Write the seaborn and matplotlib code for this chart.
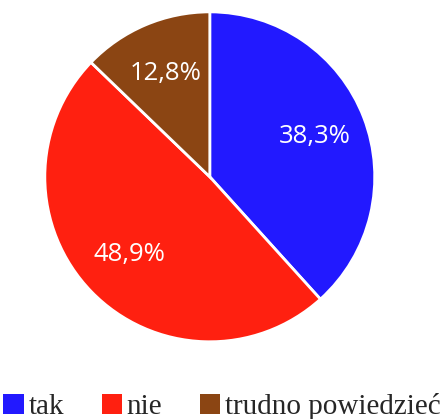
import matplotlib
matplotlib.use('Agg')
import matplotlib.pyplot as plt
import seaborn as sns
from matplotlib.patches import Patch

labels = ['tak', 'nie', 'trudno powiedzieć']
values = [38.3, 48.9, 12.8]
colors = ['#2219FF', '#FF2010', '#8B4513']

sns.set_style('white')
plt.rcParams['font.serif'] = ['Liberation Serif', 'DejaVu Serif']

fig = plt.figure(figsize=(4.44, 4.19), dpi=100)
ax = fig.add_axes([0.101, 0.184, 0.743, 0.788])

wedges, texts, autotexts = ax.pie(
    values, colors=colors, startangle=90, counterclock=False,
    autopct=lambda p: f'{p:.1f}%'.replace('.', ','), pctdistance=0.68,
    wedgeprops=dict(edgecolor='white', linewidth=2),
    textprops=dict(color='white', fontsize=18.5, family=['Open Sans', 'DejaVu Sans']))
ax.set_xlim(-1, 1)
ax.set_ylim(-1, 1)
ax.set_aspect('equal')

handles = [Patch(facecolor=c, edgecolor='none') for c in colors]
fig.legend(handles, labels, loc='lower center', bbox_to_anchor=(0.5, -0.065), ncol=3,
           frameon=False, handlelength=0.7, handleheight=0.7, handletextpad=0.15,
           columnspacing=1.3, prop=dict(family='serif', size=21))

fig.savefig('out.png', dpi=100)
